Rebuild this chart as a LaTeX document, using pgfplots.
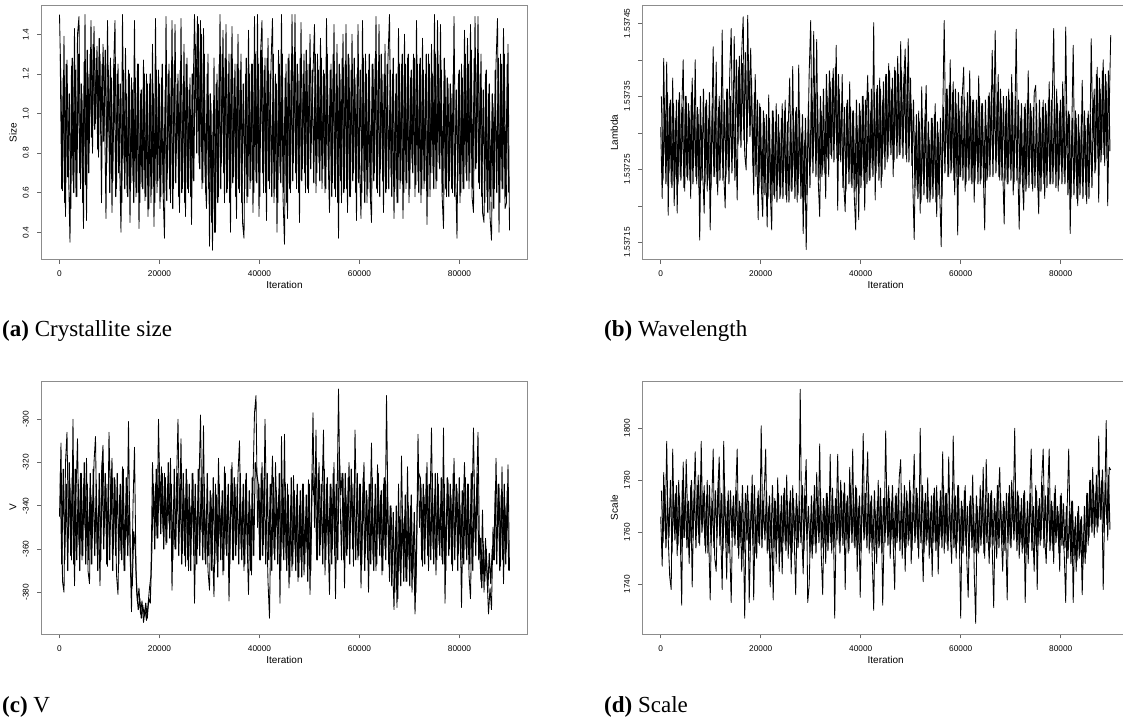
\documentclass[border=0pt]{standalone}
\usepackage{fontspec}
\setmainfont{Liberation Sans}
\newfontfamily\capfont{Liberation Serif}
\usepackage{pgfplots}
\usepackage{pgfplotstable}
\pgfplotsset{compat=1.18}

% Trace values read at iterations 0, 300, 600, ... 90000 (tables A..D)
% and at the intermediate iterations 150, 450, ... 89850 (tables Ab..Db)
\pgfplotstableread[row sep=\\]{
y\\
1.50\\1.12\\0.61\\1.39\\0.48\\1.27\\0.72\\0.35\\1.24\\0.66\\
1.43\\0.58\\1.40\\1.49\\0.62\\1.10\\0.42\\1.50\\0.46\\1.20\\
0.85\\1.47\\0.80\\1.44\\0.95\\1.34\\0.78\\1.30\\0.55\\1.35\\
1.05\\0.47\\1.47\\0.88\\1.28\\0.50\\1.20\\1.47\\0.62\\1.25\\
0.78\\0.40\\1.50\\0.75\\1.33\\0.60\\1.22\\0.45\\1.18\\0.66\\
1.47\\0.58\\1.25\\0.42\\1.10\\0.63\\1.27\\0.56\\1.20\\0.48\\
1.15\\0.55\\1.35\\0.43\\1.48\\0.60\\1.22\\0.52\\1.18\\0.62\\
0.37\\1.49\\0.70\\1.25\\0.55\\1.47\\0.62\\1.45\\0.80\\1.20\\
0.50\\1.48\\0.62\\1.35\\0.48\\1.28\\0.60\\1.18\\0.44\\1.05\\
1.50\\1.10\\1.49\\0.75\\1.47\\0.62\\1.43\\0.70\\0.52\\1.30\\
0.33\\1.05\\0.31\\1.28\\0.40\\1.20\\0.58\\1.50\\0.75\\1.42\\
0.55\\1.45\\0.62\\1.30\\0.40\\1.44\\0.68\\1.25\\0.47\\1.40\\
0.60\\1.30\\0.45\\0.37\\1.20\\0.55\\1.42\\0.62\\1.25\\0.50\\
1.49\\0.66\\1.50\\0.48\\1.30\\1.47\\0.60\\1.28\\0.46\\1.38\\
0.62\\1.25\\1.48\\0.55\\1.20\\0.40\\1.32\\0.70\\1.50\\0.58\\
0.34\\1.25\\0.47\\1.30\\0.60\\1.50\\0.75\\1.50\\0.62\\1.20\\
0.45\\1.46\\0.72\\1.30\\0.60\\1.25\\0.60\\1.40\\0.85\\1.20\\
1.45\\0.60\\1.30\\0.75\\1.38\\0.62\\1.22\\0.60\\1.48\\0.80\\
0.50\\1.25\\0.65\\1.45\\0.58\\1.35\\0.37\\1.20\\0.55\\1.40\\
0.62\\1.45\\0.50\\1.28\\0.58\\1.40\\0.70\\1.18\\0.46\\1.45\\
0.75\\0.47\\1.47\\0.66\\1.30\\0.55\\1.22\\0.62\\0.45\\1.25\\
0.70\\1.49\\0.60\\1.45\\0.72\\1.20\\0.50\\1.35\\0.62\\1.28\\
1.50\\0.68\\1.20\\0.47\\1.10\\0.55\\1.43\\0.62\\1.25\\0.47\\
1.40\\0.62\\1.28\\0.55\\1.18\\0.75\\1.30\\0.58\\1.47\\0.66\\
1.25\\0.55\\1.38\\0.62\\1.20\\0.44\\1.30\\0.58\\1.35\\0.70\\
1.50\\0.62\\1.47\\0.75\\1.45\\0.60\\0.42\\1.22\\0.58\\1.15\\
0.66\\1.10\\0.60\\1.49\\0.72\\0.37\\1.20\\0.55\\1.25\\0.62\\
1.42\\0.70\\1.38\\0.62\\1.45\\0.58\\0.50\\1.49\\0.75\\1.49\\
0.62\\1.30\\0.50\\0.45\\1.20\\0.58\\1.10\\0.48\\0.36\\1.05\\
0.62\\1.25\\1.48\\0.40\\1.30\\0.62\\1.43\\0.52\\0.55\\1.35\\0.41\\
}\tabA
\pgfplotstableread[row sep=\\]{
y\\
1.30\\0.62\\1.18\\0.55\\1.25\\0.68\\1.10\\0.52\\1.28\\0.60\\
1.22\\0.58\\1.30\\0.70\\1.15\\0.55\\1.26\\0.64\\1.32\\0.70\\
1.30\\0.88\\1.35\\0.92\\1.28\\0.82\\1.38\\0.90\\1.25\\0.86\\
1.32\\0.75\\1.22\\0.60\\1.18\\0.66\\1.25\\0.58\\1.20\\0.70\\
1.15\\0.55\\1.22\\0.62\\1.10\\0.58\\1.20\\0.65\\1.12\\0.55\\
1.18\\0.60\\1.25\\0.55\\1.12\\0.62\\1.20\\0.58\\1.15\\0.52\\
1.20\\0.62\\1.10\\0.55\\1.22\\0.66\\1.15\\0.58\\1.25\\0.60\\
1.12\\0.56\\1.20\\0.62\\1.18\\0.52\\1.25\\0.65\\1.15\\0.58\\
1.22\\0.60\\1.15\\0.55\\1.25\\0.62\\1.12\\0.58\\1.20\\0.66\\
1.35\\0.80\\1.45\\0.72\\1.40\\0.65\\1.30\\0.60\\1.20\\0.62\\
1.10\\0.45\\1.00\\0.40\\1.15\\0.55\\1.25\\0.62\\1.30\\0.70\\
1.28\\0.60\\1.20\\0.55\\1.30\\0.65\\1.18\\0.58\\1.25\\0.62\\
1.22\\0.55\\1.15\\0.62\\1.28\\0.58\\1.20\\0.66\\1.25\\0.60\\
1.30\\0.65\\1.25\\0.58\\1.32\\0.70\\1.22\\0.60\\1.28\\0.66\\
1.20\\0.58\\1.30\\0.62\\1.15\\0.55\\1.25\\0.65\\1.30\\0.60\\
1.18\\0.55\\1.28\\0.62\\1.22\\0.66\\1.30\\0.70\\1.25\\0.60\\
1.28\\0.66\\1.20\\0.70\\1.32\\0.62\\1.25\\0.72\\1.22\\0.65\\
1.30\\0.70\\1.22\\0.66\\1.28\\0.72\\1.20\\0.62\\1.30\\0.68\\
1.22\\0.58\\1.30\\0.62\\1.20\\0.55\\1.25\\0.66\\1.28\\0.60\\
1.25\\0.62\\1.30\\0.58\\1.22\\0.66\\1.28\\0.60\\1.20\\0.65\\
1.22\\0.60\\1.28\\0.55\\1.20\\0.62\\1.30\\0.58\\1.25\\0.66\\
1.28\\0.62\\1.22\\0.58\\1.30\\0.66\\1.20\\0.60\\1.25\\0.62\\
1.22\\0.58\\1.28\\0.62\\1.20\\0.55\\1.25\\0.66\\1.30\\0.60\\
1.25\\0.65\\1.30\\0.62\\1.22\\0.70\\1.28\\0.64\\1.25\\0.60\\
1.28\\0.62\\1.22\\0.66\\1.30\\0.58\\1.25\\0.70\\1.20\\0.62\\
1.30\\0.66\\1.25\\0.72\\1.22\\0.60\\1.28\\0.62\\1.18\\0.58\\
1.15\\0.62\\1.20\\0.58\\1.12\\0.66\\1.22\\0.60\\1.18\\0.62\\
1.30\\0.66\\1.25\\0.70\\1.32\\0.62\\1.28\\0.72\\1.25\\0.65\\
1.20\\0.58\\1.12\\0.55\\1.22\\0.50\\1.15\\0.58\\1.10\\0.52\\
1.22\\0.60\\1.28\\0.55\\1.25\\0.62\\1.30\\0.58\\1.25\\0.60\\
}\tabAb

% Lambda, written as (Lambda - 1.537) x 10^6
\pgfplotstableread[row sep=\\]{
y\\
308\\210\\402\\270\\397\\187\\340\\230\\375\\200\\
320\\190\\345\\240\\330\\400\\220\\350\\235\\330\\
210\\375\\255\\400\\230\\325\\153\\310\\245\\190\\
340\\220\\320\\167\\300\\418\\240\\397\\215\\350\\
260\\441\\245\\197\\360\\250\\380\\443\\265\\432\\
300\\208\\390\\290\\410\\459\\270\\249\\461\\330\\
416\\300\\215\\380\\280\\181\\340\\230\\185\\320\\
250\\171\\352\\220\\167\\330\\210\\340\\230\\300\\
215\\340\\240\\345\\205\\310\\375\\220\\391\\250\\
330\\205\\393\\240\\300\\162\\290\\140\\270\\384\\
454\\260\\439\\290\\428\\235\\185\\330\\249\\300\\
210\\350\\240\\370\\265\\388\\290\\420\\194\\360\\
260\\380\\230\\192\\340\\250\\370\\230\\330\\215\\
167\\310\\181\\330\\240\\350\\194\\320\\379\\235\\
330\\250\\451\\208\\360\\255\\375\\225\\345\\270\\
380\\260\\395\\280\\360\\240\\390\\290\\405\\270\\
425\\280\\370\\415\\260\\429\\300\\340\\235\\154\\
300\\220\\330\\190\\363\\240\\310\\365\\205\\290\\
215\\320\\230\\340\\185\\300\\220\\144\\320\\454\\
280\\360\\240\\400\\250\\370\\215\\340\\160\\330\\
240\\350\\390\\220\\330\\250\\385\\235\\345\\205\\
320\\260\\378\\230\\340\\250\\167\\310\\240\\355\\
280\\413\\300\\440\\260\\380\\235\\340\\250\\175\\
330\\230\\360\\250\\380\\215\\300\\442\\260\\168\\
320\\240\\194\\340\\230\\385\\260\\330\\220\\355\\
365\\250\\189\\320\\240\\345\\210\\330\\260\\370\\
230\\340\\443\\250\\360\\220\\330\\255\\370\\240\\
445\\280\\330\\162\\300\\420\\240\\320\\200\\300\\
230\\372\\250\\310\\203\\330\\260\\429\\300\\360\\
250\\390\\205\\360\\270\\400\\255\\370\\200\\330\\434\\
}\tabB
\pgfplotstableread[row sep=\\]{
y\\
350\\235\\335\\230\\355\\245\\345\\225\\340\\240\\
345\\230\\355\\235\\335\\225\\350\\240\\340\\235\\
355\\230\\345\\240\\335\\225\\350\\235\\360\\230\\
345\\235\\355\\225\\340\\240\\350\\230\\335\\235\\
355\\235\\345\\240\\360\\230\\350\\245\\355\\235\\
400\\285\\405\\280\\395\\290\\410\\285\\400\\295\\
375\\255\\355\\240\\345\\225\\335\\220\\330\\215\\
325\\210\\320\\205\\330\\215\\315\\205\\325\\210\\
320\\210\\330\\215\\315\\205\\325\\220\\320\\210\\
335\\215\\330\\210\\325\\205\\320\\215\\340\\225\\
375\\245\\365\\240\\355\\235\\350\\240\\360\\245\\
380\\265\\385\\270\\375\\260\\390\\265\\380\\270\\
340\\225\\335\\220\\345\\230\\335\\225\\330\\220\\
345\\230\\340\\225\\350\\235\\345\\230\\355\\235\\
360\\240\\355\\245\\365\\235\\360\\240\\370\\250\\
380\\265\\385\\270\\375\\260\\385\\265\\380\\270\\
385\\265\\380\\270\\390\\260\\375\\255\\345\\225\\
325\\210\\315\\205\\320\\215\\325\\210\\315\\205\\
320\\210\\325\\205\\315\\215\\320\\210\\335\\245\\
360\\240\\365\\245\\355\\235\\360\\240\\355\\240\\
350\\235\\345\\230\\355\\235\\350\\230\\345\\235\\
345\\230\\350\\235\\340\\230\\345\\235\\350\\240\\
360\\240\\365\\245\\355\\240\\360\\235\\350\\235\\
350\\230\\345\\235\\355\\230\\350\\235\\345\\230\\
340\\225\\335\\220\\345\\225\\340\\230\\335\\225\\
340\\225\\345\\220\\335\\230\\340\\225\\345\\230\\
345\\230\\350\\225\\340\\235\\345\\230\\350\\230\\
330\\215\\325\\210\\320\\215\\330\\210\\325\\215\\
325\\210\\330\\215\\320\\210\\325\\225\\345\\245\\
380\\265\\375\\260\\385\\270\\380\\265\\385\\275\\
}\tabBb

\pgfplotstableread[row sep=\\]{
y\\
-345\\-311\\-375\\-380\\-320\\-306\\-355\\-330\\-365\\-300\\
-377\\-335\\-309\\-358\\-325\\-365\\-330\\-350\\-318\\-370\\
-376\\-335\\-355\\-320\\-308\\-360\\-340\\-377\\-325\\-312\\
-350\\-330\\-368\\-306\\-340\\-318\\-360\\-328\\-372\\-381\\
-335\\-362\\-322\\-370\\-340\\-355\\-301\\-360\\-389\\-340\\
-313\\-370\\-385\\-378\\-390\\-384\\-394\\-388\\-393\\-386\\
-378\\-372\\-320\\-345\\-330\\-355\\-300\\-340\\-322\\-352\\
-325\\-358\\-330\\-348\\-318\\-379\\-340\\-360\\-330\\-300\\
-350\\-309\\-362\\-335\\-368\\-328\\-370\\-340\\-355\\-325\\
-385\\-345\\-360\\-330\\-298\\-352\\-303\\-365\\-340\\-370\\
-379\\-335\\-360\\-382\\-330\\-365\\-318\\-355\\-340\\-372\\
-322\\-360\\-335\\-384\\-345\\-320\\-365\\-330\\-358\\-325\\
-310\\-360\\-338\\-370\\-328\\-355\\-381\\-340\\-372\\-330\\
-297\\-289\\-350\\-330\\-365\\-320\\-358\\-300\\-345\\-375\\
-392\\-340\\-317\\-362\\-320\\-350\\-335\\-385\\-308\\-360\\
-307\\-365\\-330\\-378\\-340\\-370\\-326\\-360\\-335\\-375\\
-340\\-365\\-330\\-372\\-345\\-360\\-328\\-381\\-340\\-297\\
-350\\-305\\-365\\-320\\-358\\-335\\-305\\-372\\-330\\-355\\
-381\\-330\\-360\\-320\\-383\\-340\\-286\\-335\\-365\\-325\\
-378\\-335\\-360\\-320\\-350\\-330\\-368\\-305\\-345\\-365\\
-330\\-378\\-340\\-320\\-362\\-335\\-380\\-345\\-311\\-365\\
-340\\-370\\-321\\-355\\-335\\-372\\-330\\-360\\-289\\-345\\
-375\\-340\\-365\\-388\\-350\\-387\\-330\\-370\\-317\\-360\\
-345\\-375\\-322\\-365\\-340\\-380\\-352\\-390\\-365\\-307\\
-350\\-330\\-368\\-335\\-355\\-320\\-370\\-340\\-304\\-360\\
-335\\-372\\-325\\-358\\-340\\-365\\-304\\-385\\-345\\-328\\
-360\\-335\\-370\\-318\\-350\\-332\\-362\\-340\\-387\\-345\\
-320\\-360\\-330\\-372\\-383\\-340\\-304\\-355\\-335\\-306\\
-360\\-375\\-342\\-380\\-355\\-372\\-390\\-378\\-388\\-350\\
-365\\-318\\-355\\-330\\-368\\-322\\-376\\-340\\-360\\-321\\-370\\
}\tabC
\pgfplotstableread[row sep=\\]{
y\\
-325\\-367\\-323\\-365\\-330\\-370\\-320\\-363\\-327\\-367\\
-323\\-365\\-330\\-370\\-325\\-363\\-320\\-367\\-330\\-365\\
-325\\-367\\-323\\-363\\-330\\-370\\-325\\-365\\-320\\-360\\
-325\\-367\\-330\\-365\\-323\\-370\\-327\\-363\\-325\\-367\\
-330\\-365\\-323\\-370\\-327\\-363\\-335\\-372\\-377\\-352\\
-360\\-380\\-388\\-383\\-392\\-386\\-391\\-385\\-392\\-383\\
-385\\-362\\-330\\-360\\-323\\-355\\-320\\-353\\-325\\-360\\
-327\\-357\\-320\\-355\\-330\\-365\\-323\\-360\\-325\\-363\\
-330\\-367\\-325\\-363\\-323\\-365\\-330\\-370\\-325\\-363\\
-330\\-367\\-323\\-363\\-327\\-365\\-330\\-367\\-325\\-363\\
-333\\-370\\-327\\-367\\-335\\-373\\-330\\-365\\-333\\-370\\
-325\\-363\\-330\\-367\\-323\\-365\\-327\\-363\\-330\\-367\\
-325\\-365\\-330\\-367\\-325\\-363\\-333\\-370\\-327\\-363\\
-320\\-325\\-330\\-365\\-325\\-363\\-327\\-367\\-325\\-365\\
-330\\-370\\-327\\-365\\-333\\-367\\-325\\-370\\-330\\-365\\
-330\\-370\\-335\\-373\\-327\\-367\\-333\\-370\\-330\\-373\\
-333\\-373\\-330\\-367\\-335\\-375\\-330\\-370\\-325\\-335\\
-327\\-365\\-325\\-363\\-330\\-367\\-323\\-365\\-327\\-363\\
-330\\-367\\-325\\-363\\-330\\-365\\-315\\-335\\-325\\-365\\
-325\\-363\\-327\\-367\\-323\\-360\\-330\\-365\\-325\\-363\\
-330\\-367\\-327\\-370\\-333\\-365\\-330\\-367\\-327\\-370\\
-330\\-367\\-325\\-363\\-333\\-370\\-327\\-365\\-330\\-367\\
-340\\-377\\-343\\-380\\-340\\-383\\-345\\-377\\-340\\-375\\
-335\\-375\\-340\\-377\\-335\\-373\\-343\\-380\\-340\\-325\\
-327\\-365\\-330\\-367\\-325\\-363\\-330\\-365\\-325\\-367\\
-325\\-365\\-330\\-363\\-327\\-367\\-330\\-370\\-327\\-363\\
-330\\-367\\-325\\-365\\-330\\-370\\-327\\-365\\-333\\-367\\
-327\\-365\\-330\\-367\\-325\\-370\\-330\\-363\\-325\\-365\\
-355\\-378\\-358\\-375\\-360\\-380\\-362\\-376\\-360\\-365\\
-333\\-367\\-330\\-370\\-335\\-365\\-330\\-367\\-333\\-370\\
}\tabCb

\pgfplotstableread[row sep=\\]{
y\\
1766\\1747\\1783\\1760\\1795\\1758\\1743\\1738\\1792\\1762\\
1775\\1751\\1780\\1760\\1732\\1787\\1758\\1788\\1765\\1748\\
1778\\1739\\1770\\1791\\1760\\1782\\1755\\1795\\1762\\1778\\
1752\\1780\\1758\\1734\\1770\\1792\\1750\\1745\\1775\\1789\\
1760\\1738\\1795\\1765\\1742\\1776\\1755\\1733\\1770\\1758\\
1775\\1792\\1750\\1770\\1745\\1765\\1727\\1768\\1778\\1733\\
1760\\1782\\1734\\1766\\1750\\1776\\1755\\1801\\1762\\1775\\
1792\\1752\\1770\\1739\\1765\\1734\\1773\\1748\\1781\\1745\\
1768\\1744\\1775\\1755\\1782\\1750\\1772\\1744\\1778\\1758\\
1736\\1770\\1756\\1815\\1760\\1744\\1775\\1788\\1733\\1740\\
1765\\1750\\1772\\1755\\1783\\1760\\1794\\1752\\1736\\1770\\
1748\\1775\\1756\\1790\\1752\\1770\\1727\\1765\\1790\\1755\\
1780\\1758\\1775\\1738\\1772\\1752\\1785\\1760\\1792\\1755\\
1778\\1745\\1770\\1735\\1765\\1798\\1758\\1775\\1791\\1752\\
1772\\1750\\1730\\1768\\1748\\1780\\1755\\1770\\1732\\1762\\
1799\\1760\\1778\\1750\\1772\\1755\\1738\\1775\\1758\\1781\\
1788\\1750\\1770\\1745\\1776\\1755\\1780\\1748\\1768\\1790\\
1758\\1775\\1750\\1800\\1762\\1741\\1772\\1755\\1781\\1750\\
1768\\1743\\1775\\1756\\1778\\1744\\1770\\1758\\1791\\1752\\
1775\\1755\\1789\\1760\\1748\\1797\\1765\\1750\\1778\\1760\\
1727\\1770\\1755\\1778\\1750\\1735\\1772\\1760\\1782\\1745\\
1725\\1770\\1752\\1778\\1758\\1785\\1750\\1788\\1762\\1748\\
1775\\1755\\1731\\1768\\1750\\1772\\1785\\1760\\1745\\1770\\
1760\\1734\\1775\\1755\\1780\\1765\\1800\\1758\\1776\\1750\\
1768\\1752\\1775\\1733\\1765\\1748\\1772\\1792\\1760\\1745\\
1778\\1738\\1770\\1755\\1780\\1792\\1758\\1748\\1775\\1792\\
1755\\1770\\1748\\1778\\1758\\1768\\1745\\1775\\1760\\1752\\
1733\\1770\\1792\\1758\\1772\\1733\\1762\\1745\\1768\\1750\\
1765\\1736\\1760\\1748\\1775\\1755\\1780\\1762\\1785\\1758\\
1775\\1760\\1797\\1765\\1780\\1738\\1770\\1803\\1757\\1785\\1784\\
}\tabD
\pgfplotstableread[row sep=\\]{
y\\
1776\\1756\\1778\\1754\\1772\\1758\\1780\\1752\\1775\\1757\\
1778\\1755\\1774\\1752\\1780\\1758\\1776\\1754\\1772\\1756\\
1780\\1758\\1776\\1754\\1778\\1756\\1782\\1760\\1775\\1755\\
1774\\1752\\1778\\1756\\1772\\1754\\1776\\1758\\1780\\1755\\
1775\\1753\\1778\\1756\\1772\\1752\\1776\\1758\\1774\\1755\\
1776\\1754\\1772\\1756\\1778\\1752\\1775\\1757\\1772\\1753\\
1775\\1755\\1778\\1752\\1773\\1756\\1777\\1754\\1772\\1757\\
1776\\1753\\1774\\1756\\1778\\1754\\1772\\1757\\1775\\1752\\
1774\\1756\\1777\\1753\\1772\\1755\\1776\\1752\\1773\\1757\\
1775\\1754\\1772\\1756\\1778\\1753\\1774\\1757\\1770\\1752\\
1774\\1755\\1778\\1752\\1772\\1756\\1776\\1754\\1773\\1757\\
1775\\1753\\1772\\1756\\1777\\1754\\1773\\1757\\1776\\1752\\
1776\\1755\\1779\\1757\\1774\\1753\\1778\\1756\\1775\\1754\\
1777\\1756\\1774\\1753\\1778\\1757\\1775\\1754\\1779\\1756\\
1774\\1753\\1776\\1756\\1772\\1754\\1777\\1752\\1773\\1756\\
1776\\1755\\1773\\1757\\1778\\1754\\1774\\1756\\1777\\1753\\
1775\\1756\\1778\\1754\\1772\\1757\\1776\\1753\\1774\\1756\\
1777\\1754\\1773\\1756\\1778\\1752\\1775\\1757\\1772\\1754\\
1774\\1756\\1777\\1753\\1772\\1755\\1776\\1754\\1778\\1756\\
1775\\1753\\1772\\1757\\1777\\1754\\1774\\1756\\1778\\1753\\
1772\\1752\\1776\\1755\\1770\\1750\\1774\\1754\\1771\\1752\\
1774\\1753\\1770\\1755\\1776\\1752\\1772\\1756\\1775\\1754\\
1776\\1755\\1773\\1757\\1778\\1754\\1775\\1756\\1772\\1753\\
1775\\1756\\1778\\1754\\1773\\1757\\1776\\1753\\1774\\1756\\
1773\\1754\\1776\\1752\\1772\\1756\\1775\\1753\\1770\\1755\\
1776\\1755\\1773\\1757\\1778\\1754\\1774\\1756\\1777\\1753\\
1772\\1753\\1775\\1756\\1770\\1752\\1774\\1755\\1771\\1754\\
1770\\1750\\1768\\1748\\1772\\1751\\1766\\1749\\1770\\1752\\
1766\\1748\\1770\\1752\\1775\\1758\\1780\\1760\\1778\\1762\\
1782\\1762\\1780\\1765\\1784\\1760\\1779\\1763\\1782\\1761\\
}\tabDb

\pgfplotsset{
  trace/.style={
    scale only axis, width=486pt, height=253.5pt,
    xmin=-3600, xmax=93600,
    xtick={0,20000,40000,60000,80000},
    xticklabels={0,20000,40000,60000,80000},
    scaled ticks=false,
    tick align=outside, xtick pos=bottom, ytick pos=left,
    major tick length=4.3pt,
    tick style={black!60, line width=0.6pt},
    axis line style={black!45, line width=0.7pt},
    tick label style={font=\fontsize{8.3}{10}\selectfont},
    xticklabel style={anchor=center}, xticklabel shift=10.3pt,
    yticklabel style={rotate=90, anchor=center}, yticklabel shift=11.5pt,
    label style={font=\fontsize{8.3}{10}\selectfont},
    xlabel={Iteration},
    every axis x label/.style={at={(axis description cs:0.5,-0.1026)}, anchor=center},
    every axis y label/.style={at={(axis description cs:-0.0586,0.5)}, rotate=90, anchor=center},
  },
  tracel/.style={black, line width=0.85pt, line join=round, no markers},
  tracec/.style={black, line width=1.0pt, line join=round, no markers},
}

\begin{document}
\begin{tikzpicture}
\path[use as bounding box] (0pt,0pt) rectangle (1123pt,716pt);

\begin{axis}[trace, at={(41.5pt,456.7pt)}, anchor=south west,
  ymin=0.2636, ymax=1.5444,
  ytick={0.4,0.6,0.8,1.0,1.2,1.4}, yticklabels={0.4,0.6,0.8,1.0,1.2,1.4},
  ylabel={Size}]
\addplot[tracec] table[x expr=\coordindex*300+150, y=y] {\tabAb};
\addplot[tracel] table[x expr=\coordindex*300, y=y] {\tabA};
\end{axis}

\begin{axis}[trace, at={(642.7pt,456.7pt)}, anchor=south west,
  ymin=126.7, ymax=474.1,
  ytick={150,200,250,300,350,400,450},
  yticklabels={1.53715,,1.53725,,1.53735,,1.53745},
  ylabel={Lambda}]
\addplot[tracec] table[x expr=\coordindex*300+150, y=y] {\tabBb};
\addplot[tracel] table[x expr=\coordindex*300, y=y] {\tabB};
\end{axis}

\begin{axis}[trace, at={(41.5pt,82pt)}, anchor=south west, height=253pt,
  ymin=-399.3, ymax=-282.3,
  ytick={-380,-360,-340,-320,-300}, yticklabels={-380,-360,-340,-320,-300},
  ylabel={V}]
\addplot[tracec] table[x expr=\coordindex*300+150, y=y] {\tabCb};
\addplot[tracel] table[x expr=\coordindex*300, y=y] {\tabC};
\end{axis}

\begin{axis}[trace, at={(642.7pt,82pt)}, anchor=south west, height=253pt,
  ymin=1720.9, ymax=1818.2,
  ytick={1740,1760,1780,1800}, yticklabels={1740,1760,1780,1800},
  ylabel={Scale}]
\addplot[tracec] table[x expr=\coordindex*300+150, y=y] {\tabDb};
\addplot[tracel] table[x expr=\coordindex*300, y=y] {\tabD};
\end{axis}

\node[anchor=base west, inner sep=0pt] at (2pt,379.3pt) {\capfont\fontsize{23}{27}\selectfont\textbf{(a)} Crystallite size};
\node[anchor=base west, inner sep=0pt] at (604pt,379.3pt) {\capfont\fontsize{23}{27}\selectfont\textbf{(b)} Wavelength};
\node[anchor=base west, inner sep=0pt] at (2pt,4pt) {\capfont\fontsize{23}{27}\selectfont\textbf{(c)} V};
\node[anchor=base west, inner sep=0pt] at (604pt,4pt) {\capfont\fontsize{23}{27}\selectfont\textbf{(d)} Scale};
\end{tikzpicture}
\end{document}
